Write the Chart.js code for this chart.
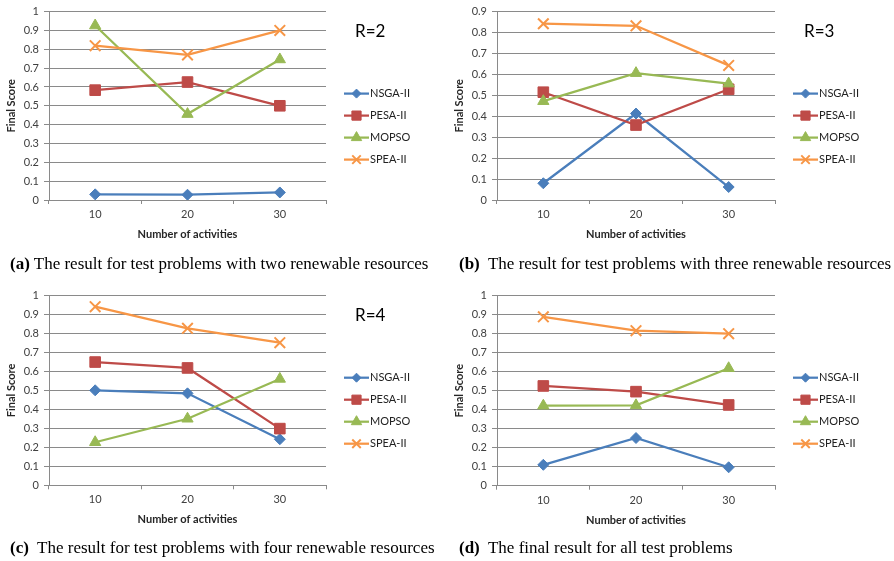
<!DOCTYPE html>
<html><head><meta charset="utf-8">
<script src="https://cdn.jsdelivr.net/npm/chart.js@4/dist/chart.umd.min.js"></script>
<style>
body{margin:0;background:#fff;width:894px;height:561px;position:relative;overflow:hidden}
.p{position:absolute;width:447px;height:260px}
.cap{position:absolute;font-family:"Liberation Serif","Times New Roman",serif;font-size:17px;line-height:20px;color:#000;white-space:nowrap}
</style></head><body>
<div class="p" style="left:0;top:0"><canvas id="ca" width="447" height="260"></canvas></div>
<div class="p" style="left:447px;top:0"><canvas id="cb" width="447" height="260"></canvas></div>
<div class="p" style="left:0;top:280px"><canvas id="cc" width="447" height="260"></canvas></div>
<div class="p" style="left:447px;top:280px"><canvas id="cd" width="447" height="260"></canvas></div>
<div class="cap" style="left:10px;top:254px"><b>(a)</b> The result for test problems with two renewable resources</div>
<div class="cap" style="left:459px;top:254px"><b>(b)</b>&nbsp; The result for test problems with three renewable resources</div>
<div class="cap" style="left:10px;top:538px"><b>(c)</b>&nbsp; The result for test problems with four renewable resources</div>
<div class="cap" style="left:459px;top:538px"><b>(d)</b>&nbsp; The final result for all test problems</div>
<script>
// ---- data ----
const activities = ['10', '20', '30'];
const seriesNames = ['NSGA-II', 'PESA-II', 'MOPSO', 'SPEA-II'];

const nsgaA  = [0.030, 0.028, 0.040];
const pesaA  = [0.583, 0.626, 0.500];
const mopsoA = [0.926, 0.456, 0.746];
const speaA  = [0.819, 0.770, 0.900];

const nsgaB  = [0.080, 0.413, 0.062];
const pesaB  = [0.515, 0.358, 0.529];
const mopsoB = [0.472, 0.606, 0.556];
const speaB  = [0.842, 0.832, 0.643];

const nsgaC  = [0.501, 0.485, 0.243];
const pesaC  = [0.650, 0.619, 0.299];
const mopsoC = [0.227, 0.351, 0.561];
const speaC  = [0.942, 0.828, 0.752];

const nsgaD  = [0.110, 0.251, 0.097];
const pesaD  = [0.525, 0.495, 0.425];
const mopsoD = [0.421, 0.423, 0.618];
const speaD  = [0.889, 0.816, 0.800];

const yMaxes = [1, 0.9, 1, 1];
const rLabels = ['R=2', 'R=3', 'R=4', ''];
const yTitle = 'Final Score';
const xTitle = 'Number of activities';

// ---- styles ----
const colors = ['#4A7EBB', '#BE4B48', '#98B954', '#F79646'];
const pStyles = ['rectRot', 'rect', 'triangle', 'crossRot'];
const pRadius = [5.5, 7.5, 6.5, 7.5];
const legendRadius = [4.5, 6.5, 6, 6];
const FONT = 'Lato, "Open Sans", sans-serif';
const GRID = '#8a8a8a';

const sideLegend = {
  id: 'sideLegend',
  afterDraw(chart, args, opts) {
    const ctx = chart.ctx, ca = chart.chartArea;
    ctx.save();
    chart.data.datasets.forEach((ds, i) => {
      const y = ca.top + 82 + i * 22;
      const x0 = ca.right + 18, x1 = ca.right + 43;
      ctx.strokeStyle = ds.borderColor;
      ctx.lineWidth = 2.25;
      ctx.beginPath(); ctx.moveTo(x0, y); ctx.lineTo(x1, y); ctx.stroke();
      ctx.fillStyle = ds.borderColor;
      ctx.lineWidth = i === 3 ? 2 : 1;
      Chart.helpers.drawPoint(ctx, {pointStyle: pStyles[i], radius: legendRadius[i], borderWidth: ctx.lineWidth, rotation: 0}, (x0 + x1) / 2, y);
      ctx.fillStyle = '#222';
      ctx.font = '11px ' + FONT;
      ctx.textAlign = 'left'; ctx.textBaseline = 'middle';
      ctx.fillText(ds.label, x1 + 1, y);
    });
    if (opts.rText) {
      ctx.fillStyle = '#000';
      ctx.font = '17px ' + FONT;
      ctx.textAlign = 'left'; ctx.textBaseline = 'middle';
      ctx.fillText(opts.rText, ca.right + 29, ca.top + 20);
    }
    ctx.restore();
  }
};

function makeChart(id, series, yMax, rText, pad) {
  new Chart(document.getElementById(id), {
    type: 'line',
    data: {
      labels: activities,
      datasets: series.map((vals, i) => ({
        label: seriesNames[i],
        data: vals,
        borderColor: colors[i],
        backgroundColor: colors[i],
        pointBackgroundColor: colors[i],
        pointBorderColor: colors[i],
        pointStyle: pStyles[i],
        pointRadius: pRadius[i],
        pointBorderWidth: i === 3 ? 2 : 1,
        borderWidth: 2.25,
        tension: 0,
        fill: false,
        order: 4 - i
      }))
    },
    options: {
      responsive: false,
      animation: false,
      layout: {padding: pad},
      plugins: {
        legend: {display: false},
        tooltip: {enabled: false},
        sideLegend: {rText: rText}
      },
      scales: {
        x: {
          type: 'category',
          offset: true,
          afterFit: s => { s.height = 45; },
          grid: {offset: true, drawOnChartArea: false, drawTicks: true, tickLength: 4, color: GRID},
          border: {display: true, color: GRID, width: 1},
          ticks: {font: {family: FONT, size: 11}, color: '#404040', padding: 4, maxRotation: 0},
          title: {display: true, text: xTitle, font: {family: FONT, size: 11, weight: 'bold'}, color: '#262626', padding: {top: 0, bottom: 4}}
        },
        y: {
          min: 0, max: yMax,
          afterFit: s => { s.width = 44; },
          grid: {color: GRID, lineWidth: 1, tickLength: 5, drawTicks: true},
          border: {display: true, color: GRID, width: 1},
          ticks: {stepSize: 0.1, font: {family: FONT, size: 11}, color: '#404040', padding: 5,
            callback: v => String(parseFloat(Number(v).toFixed(1)))},
          title: {display: true, text: yTitle, font: {family: FONT, size: 11, weight: 'bold'}, color: '#262626', padding: 0}
        }
      }
    },
    plugins: [sideLegend]
  });
}

makeChart('ca', [nsgaA, pesaA, mopsoA, speaA], yMaxes[0], rLabels[0], {left: 5, right: 121, top: 10, bottom: 15});
makeChart('cb', [nsgaB, pesaB, mopsoB, speaB], yMaxes[1], rLabels[1], {left: 6, right: 119, top: 10, bottom: 15});
makeChart('cc', [nsgaC, pesaC, mopsoC, speaC], yMaxes[2], rLabels[2], {left: 5, right: 121, top: 15.7, bottom: 9.7});
makeChart('cd', [nsgaD, pesaD, mopsoD, speaD], yMaxes[3], rLabels[3], {left: 6, right: 119, top: 15.7, bottom: 9.3});
</script>
</body></html>
